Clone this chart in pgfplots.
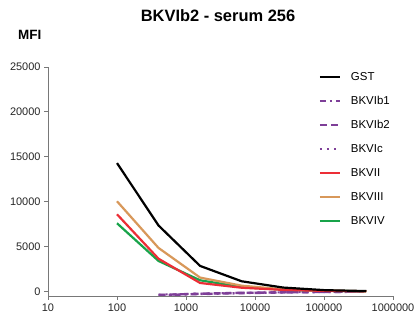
\documentclass[border=0pt]{standalone}
\usepackage{fontspec}
\setmainfont{Liberation Sans}
\usepackage{pgfplots}
\pgfplotsset{compat=1.18}
\definecolor{cpurple}{RGB}{126,63,152}
\definecolor{cred}{RGB}{236,46,54}
\definecolor{corange}{RGB}{216,152,90}
\definecolor{cgreen}{RGB}{24,163,74}
\definecolor{caxis}{RGB}{120,120,120}
\begin{document}
\begin{tikzpicture}
\path[use as bounding box] (-48bp,-25bp) rectangle (370bp,296bp);
\begin{axis}[
  scale only axis,
  width=345bp, height=229bp,
  xmode=log,
  xmin=10, xmax=1000000,
  ymin=-500, ymax=25000,
  axis lines*=left,
  axis line style={caxis, line width=0.9bp},
  every tick/.style={caxis, line width=0.9bp},
  tick align=outside,
  major tick length=4bp,
  xtick={10,100,1000,10000,100000,1000000},
  xticklabels={10,100,1000,10000,100000,1000000},
  xminorticks=false,
  ytick={0,5000,10000,15000,20000,25000},
  yticklabel style={/pgf/number format/fixed, /pgf/number format/1000 sep={}},
  /pgf/number format/assume math mode=true,
  tick label style={font=\fontsize{11}{12}\selectfont, text=black!85},
  scaled y ticks=false,
  legend style={at={(rel axis cs:0.775,0.99)}, anchor=north west, draw=none, fill=none,
    font=\fontsize{11.5}{13}\selectfont, row sep=13.5bp,
    nodes={inner sep=1bp, text height=8.5bp, text depth=0bp},
    /tikz/every odd column/.append style={column sep=9bp}},
  legend cell align=left,
  legend image code/.code={\draw[#1] (0bp,0bp) -- (20bp,0bp);},
]
\addlegendimage{black, line width=2.2bp}
\addlegendentry{GST}
\addlegendimage{cpurple, line width=2.4bp, dash pattern=on 6bp off 4bp on 2bp off 4bp}
\addlegendentry{BKVIb1}
\addlegendimage{cpurple, line width=2.4bp, dash pattern=on 7bp off 4bp}
\addlegendentry{BKVIb2}
\addlegendimage{cpurple, line width=2bp, dash pattern=on 2bp off 5bp}
\addlegendentry{BKVIc}
\addlegendimage{cred, line width=2.2bp}
\addlegendentry{BKVII}
\addlegendimage{corange, line width=2.2bp}
\addlegendentry{BKVIII}
\addlegendimage{cgreen, line width=2.2bp}
\addlegendentry{BKVIV}

% BKVIb1
\addplot[forget plot, cpurple, line width=2.4bp, dash pattern=on 6bp off 4bp on 2bp off 4bp] coordinates {
(400,-420) (1600,-280) (6400,-180) (25600,-100) (102400,-50) (409600,-20)};
% BKVIb2
\addplot[forget plot, cpurple, line width=2.4bp, dash pattern=on 7bp off 4bp] coordinates {
(400,-380) (1600,-250) (6400,-150) (25600,-90) (102400,-40) (409600,-20)};
% BKVIc
\addplot[forget plot, cpurple, line width=2bp, dash pattern=on 2bp off 5bp] coordinates {
(400,-350) (1600,-230) (6400,-140) (25600,-80) (102400,-40) (409600,-10)};
% BKVIV
\addplot[forget plot, cgreen, line width=2.2bp] coordinates {
(100,7600) (400,3400) (1600,1250) (6400,500) (25600,200) (102400,80) (409600,20)};
% BKVIII
\addplot[forget plot, corange, line width=2.2bp] coordinates {
(100,10050) (400,4850) (1600,1550) (6400,650) (25600,250) (102400,100) (409600,30)};
% BKVII
\addplot[forget plot, cred, line width=2.2bp] coordinates {
(100,8600) (400,3650) (1600,950) (6400,420) (25600,180) (102400,70) (409600,20)};
% GST
\addplot[forget plot, black, line width=2.2bp] coordinates {
(100,14300) (400,7350) (1600,2850) (6400,1140) (25600,440) (102400,150) (409600,50)};
\end{axis}
\node[anchor=base, font=\bfseries\fontsize{16.5}{18}\selectfont] at (170bp,274.3bp) {BKVIb2 - serum 256};
\node[anchor=base west, inner sep=0pt, font=\bfseries\fontsize{13.5}{15}\selectfont] at (-30bp,256bp) {MFI};
\end{tikzpicture}
\end{document}
